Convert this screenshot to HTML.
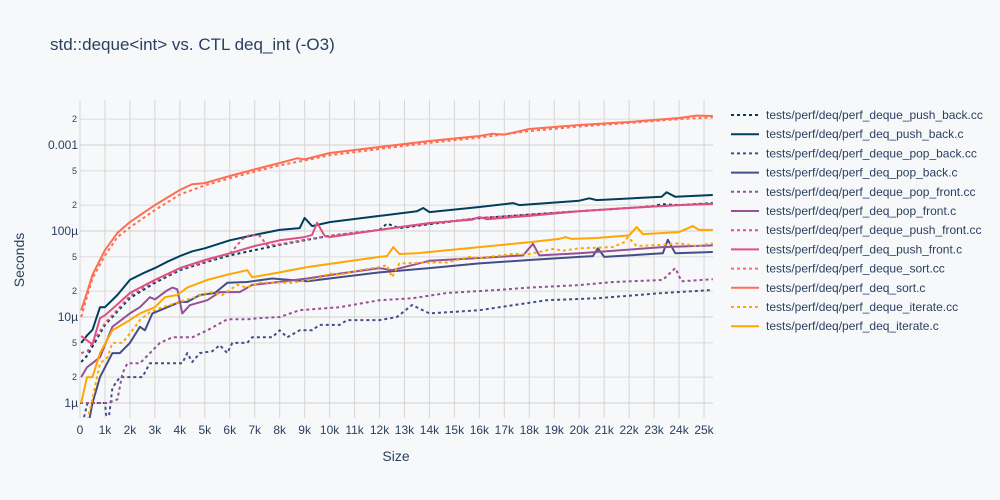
<!DOCTYPE html>
<html><head><meta charset="utf-8"><style>
body{margin:0;background:#f7f8fa;}
svg{display:block;font-family:"Liberation Sans",sans-serif;}
</style></head><body>
<svg id="c" width="1000" height="500">
<rect width="1000" height="500" fill="#f7f8fa"/>
<text x="50" y="50" font-size="17" fill="#2a3f5f">std::deque&lt;int&gt; vs. CTL deq_int (-O3)</text>
<text x="396" y="461" font-size="14" fill="#2a3f5f" text-anchor="middle">Size</text>
<text transform="translate(24,260) rotate(-90)" font-size="14" fill="#2a3f5f" text-anchor="middle">Seconds</text>
<g id="grid"></g><g id="series"></g><g id="legend"></g>
</svg>
<script>
const xTicks=[0,1,2,3,4,5,6,7,8,9,10,11,12,13,14,15,16,17,18,19,20,21,22,23,24,25];
const yMajor=[1e-6,1e-5,1e-4,1e-3];
const yMajorLabels=["1µ","10µ","100µ","0.001"];
const yMinor=[2e-6,5e-6,2e-5,5e-5,2e-4,5e-4,2e-3];
const yMinorLabels=["2","5","2","5","2","5","2"];
const names=["tests/perf/deq/perf_deque_push_back.cc","tests/perf/deq/perf_deq_push_back.c","tests/perf/deq/perf_deque_pop_back.cc","tests/perf/deq/perf_deq_pop_back.c","tests/perf/deq/perf_deque_pop_front.cc","tests/perf/deq/perf_deq_pop_front.c","tests/perf/deq/perf_deque_push_front.cc","tests/perf/deq/perf_deq_push_front.c","tests/perf/deq/perf_deque_sort.cc","tests/perf/deq/perf_deq_sort.c","tests/perf/deq/perf_deque_iterate.cc","tests/perf/deq/perf_deq_iterate.c"];
const colors=["#003f5c","#003f5c","#444e86","#444e86","#955196","#955196","#dd5182","#dd5182","#ff6e54","#ff6e54","#ffa600","#ffa600"];
const dotted=[true,false,true,false,true,false,true,false,true,false,true,false];
// size in thousands, time in microseconds
const pushBackCC=[[0.05,3],[0.3,3.6],[1,8.1],[2,16.6],[3,25],[4,35],[5,43],[6,52],[7,60],[8,69],[9,78],[10,88],[12,103],[12.3,122],[12.8,108],[14,120],[16,141],[18,155],[20,170],[22,185],[23,195],[23.3,205],[24,200],[25.35,211]];
const pushBackC=[[0.05,5],[0.3,6.2],[0.5,7.1],[0.8,13],[1,13],[1.5,18],[2,27],[2.5,32],[3,37],[3.5,44],[4,51],[4.5,58],[5,63],[6,78],[7,90],[8,103],[8.8,108],[9,142],[9.3,114],[10,127],[12,150],[13.5,170],[13.75,185],[14,166],[16,190],[17.35,211],[17.6,200],[20,225],[20.4,240],[20.7,229],[23.3,250],[23.5,282],[23.85,250],[25.35,262]];
const popBackCC=[[0.05,0.5],[0.3,1],[1,1],[1.1,0.5],[1.3,1.5],[1.6,2],[2.5,2],[2.8,2.9],[4.1,2.9],[4.3,3.8],[4.5,3],[4.8,3.8],[5.3,4],[5.6,4.7],[5.9,3.8],[6.1,5],[6.7,5],[6.9,5.8],[7.7,5.8],[8,7],[8.3,5.8],[8.8,7],[9.3,7],[9.6,8.1],[10.4,8.1],[10.7,9.2],[12,9.2],[12.7,10],[13.3,13.8],[14,11],[16,12],[18.7,15.7],[20.7,16.5],[23.35,19],[25.35,20.6]];
const popBackC=[[0.3,0.5],[0.5,1],[0.8,2],[1.3,3.8],[1.6,3.8],[2,5],[2.4,7.7],[2.6,7],[2.9,11],[3.5,13],[4,15],[4.3,15],[4.8,18],[5.4,19],[5.9,25],[6.7,25.5],[7.7,28],[9.1,26],[10.4,29],[12,33],[14,37],[16,42],[18,46],[20,50],[20.55,51],[20.75,63],[21,50],[23.35,55],[23.55,79],[23.85,55],[25.35,57]];
const popFrontCC=[[0,1],[0.3,1],[1.1,1],[1.5,1.1],[1.7,2.2],[1.9,2.9],[2.4,2.9],[2.8,3.8],[3.2,5],[3.7,5.8],[4.5,5.8],[5.1,7],[5.9,9.4],[6.7,9.4],[7.2,9.7],[8,10],[8.8,12],[10.4,13],[12,15.7],[13.3,16.5],[14.7,19],[16.7,20.6],[18,22],[20,23.5],[21.35,25.5],[23.35,27],[23.85,37],[24.1,26],[25.35,27.5]];
const popFrontC=[[0.05,2],[0.28,2.6],[0.8,3.4],[1.3,7.7],[2,11],[2.4,13],[2.8,17],[3,16],[3.5,20.5],[3.7,22],[3.9,21],[4.1,11],[4.4,13.7],[5.1,15.7],[5.6,19.5],[6.4,19.5],[6.9,23.6],[7.7,25],[9.1,28],[10.4,32],[12,37],[12.5,35],[14,45],[16,48.5],[17.75,52],[18.15,71],[18.4,52],[20,55],[23.35,65],[25.35,68]];
const pushFrontCC=[[0.05,3.8],[0.3,4],[1,8.5],[2,17.5],[3,26],[4,36],[5,44],[6,54],[6.5,80],[6.8,90],[7.2,88],[7.5,68],[8,70],[9,79],[10,88],[12,103],[14,122],[16,142],[18,155],[20,170],[22,186],[24,200],[25.35,208]];
const pushFrontC=[[0.05,6],[0.5,4.8],[0.8,9.7],[1,10.5],[1.5,14],[2,19],[3,27],[4,37],[5,46],[6,55],[7,67],[8,78],[9,85],[9.3,90],[9.5,125],[9.8,88],[10,85],[12,103],[14,124],[15.7,135],[16,145],[16.3,137],[18,150],[20,170],[22,185],[24,200],[25.35,206]];
const sortCC=[[0.05,10],[0.3,18],[0.5,28],[1,52],[1.5,85],[2,110],[3,175],[4,265],[5,340],[6,410],[7,490],[8,580],[9,660],[10,760],[12,900],[14,1060],[16,1220],[18,1450],[20,1640],[22,1800],[24,2000],[25.35,2100]];
const sortC=[[0.05,12],[0.3,20],[0.5,31],[1,60],[1.5,95],[2,127],[3,200],[4,300],[4.5,350],[5,361],[6,436],[7,520],[8,617],[8.7,700],[9,680],[10,807],[12,948],[14,1114],[16,1273],[16.5,1350],[17,1320],[18,1535],[20,1709],[22,1851],[24,2061],[24.7,2200],[25.35,2174]];
const iterateCC=[[0.3,0.63],[0.52,1.2],[0.8,2.9],[1.1,3.4],[1.3,5],[1.7,5],[2.1,7],[2.4,9.2],[2.8,11.4],[3.3,13],[4,15],[4.5,16.6],[5.2,19.5],[5.7,18],[6.3,23.6],[6.7,22],[7.2,25],[8,25],[8.5,25],[9.5,28],[10,32],[10.4,31],[11.2,35],[12,38],[12.3,40],[12.5,29],[12.8,42],[14,43],[14.7,43],[15.6,50],[16,48.5],[17.35,54],[18,54],[18.95,62],[19.35,59],[20,63],[21.35,65],[21.8,74],[21.95,85],[22.3,67],[23.35,69],[24,72],[24.7,67],[25.35,72]];
const iterateC=[[0.05,1],[0.28,2],[0.5,2],[0.8,3.8],[1.3,7],[2,9.2],[2.4,11],[3,13],[3.4,17],[3.9,18],[4.3,22],[5.1,27],[5.9,31],[6.7,35],[6.9,29],[8,33],[9.1,38],[10.4,43],[12,50],[12.3,51],[12.55,65],[12.8,54],[13.5,55],[14,57],[16,65],[18,74],[19.2,81],[19.45,85],[19.7,81],[20.7,83],[22,89],[22.3,111],[22.55,92],[24,97],[24.55,114],[24.8,103],[25.35,103]];
const seriesData=[pushBackCC,pushBackC,popBackCC,popBackC,popFrontCC,popFrontC,pushFrontCC,pushFrontC,sortCC,sortC,iterateCC,iterateC];

const X0=80,X1=713,Y0=418,Y1=100,XMAX=25.36;
const LMIN=Math.log10(1e-6)-15/86, LMAX=Math.log10(1e-6)+303/86;
const sx=k=>X0+(k/XMAX)*(X1-X0);
const sy=v=>Y0-(Math.log10(v)-LMIN)/(LMAX-LMIN)*(Y0-Y1);
const NS="http://www.w3.org/2000/svg";
function mk(tag,attrs,parent,text){const e=document.createElementNS(NS,tag);for(const k in attrs)e.setAttribute(k,attrs[k]);if(text!==undefined)e.textContent=text;parent.appendChild(e);return e;}
const grid=document.getElementById('grid');
xTicks.forEach(t=>{
  const l=mk('line',{x1:sx(t),x2:sx(t),y1:Y1,y2:Y0,stroke:'#d6d6d6','stroke-width':1},grid);
  
  
  const tx=mk('text',{x:sx(t),y:434,'font-size':12,fill:'#2a3f5f','text-anchor':'middle'},grid,t===0?'0':t+'k');
  
  
});
yMinor.forEach((v,i)=>{
  const l=mk('line',{x1:X0,x2:X1,y1:sy(v),y2:sy(v),stroke:'#dcdcdc','stroke-width':1},grid);
  
  
  const tx=mk('text',{x:77,y:sy(v)+3,'font-size':9,fill:'#2a3f5f','text-anchor':'end'},grid,yMinorLabels[i]);
  
  
});
yMajor.forEach((v,i)=>{
  const l=mk('line',{x1:X0,x2:X1,y1:sy(v),y2:sy(v),stroke:'#d0d0d0','stroke-width':1},grid);
  
  
  const tx=mk('text',{x:78,y:sy(v)+4,'font-size':12,fill:'#2a3f5f','text-anchor':'end'},grid,yMajorLabels[i]);
  
  
});
mk('defs',{},document.getElementById('c')).innerHTML='<clipPath id="cp"><rect x="80" y="100" width="633" height="318"/></clipPath>';
const sg=document.getElementById('series');sg.setAttribute('clip-path','url(#cp)');
const lg=document.getElementById('legend');
seriesData.forEach((d,i)=>{
  const pts=d.map(p=>sx(p[0]).toFixed(1)+','+sy(p[1]*1e-6).toFixed(1)).join(' ');
  const a={points:pts,fill:'none',stroke:colors[i],'stroke-width':2,'stroke-linejoin':'round'};
  if(dotted[i])a['stroke-dasharray']='3 3';
  const pl=mk('polyline',a,sg);
  
  
  const y=115+i*19.2;
  const la={x1:731,x2:759,y1:y,y2:y,stroke:colors[i],'stroke-width':2};
  if(dotted[i])la['stroke-dasharray']='3 3';
  const ll=mk('line',la,lg);
  
  
  const lt=mk('text',{x:766,y:y+4,'font-size':12,fill:'#2a3f5f'},lg,names[i]);
  
  
});
</script>
</body></html>
